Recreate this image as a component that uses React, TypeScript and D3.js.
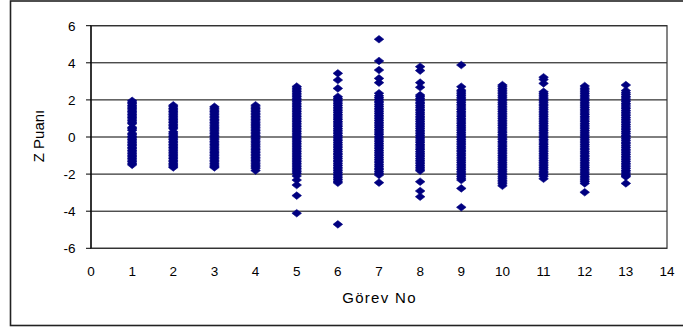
import React from 'react';
import * as d3 from 'd3';

// Görev numaraları ve her görevin Z puanları
const tasks = [1, 2, 3, 4, 5, 6, 7, 8, 9, 10, 11, 12, 13];

const t1 = [1.95, 1.87, 1.79, 1.7, 1.62, 1.55, 1.46, 1.38, 1.3, 1.21, 1.13, 1.05, 0.97, 0.88, 0.8, 0.72, 0.52, 0.44, 0.36, 0.2, 0.12, 0.03, -0.05, -0.14, -0.22, -0.31, -0.39, -0.47, -0.56, -0.64, -0.73, -0.81, -0.9, -0.98, -1.07, -1.15, -1.24, -1.32, -1.41, -1.5];
const t2 = [1.71, 1.63, 1.54, 1.46, 1.37, 1.29, 1.2, 1.12, 1.03, 0.95, 0.86, 0.78, 0.69, 0.61, 0.53, 0.45, 0.28, 0.2, 0.11, 0.03, -0.06, -0.14, -0.23, -0.31, -0.4, -0.48, -0.57, -0.65, -0.74, -0.82, -0.91, -0.99, -1.08, -1.16, -1.25, -1.33, -1.42, -1.5, -1.57, -1.64];
const t3 = [1.63, 1.55, 1.46, 1.38, 1.29, 1.21, 1.12, 1.04, 0.95, 0.87, 0.78, 0.7, 0.61, 0.53, 0.44, 0.36, 0.27, 0.19, 0.1, 0.02, -0.07, -0.15, -0.24, -0.32, -0.41, -0.49, -0.58, -0.66, -0.75, -0.83, -0.92, -1, -1.09, -1.17, -1.26, -1.34, -1.43, -1.51, -1.58, -1.64];
const t4 = [1.71, 1.62, 1.54, 1.45, 1.37, 1.28, 1.2, 1.11, 1.03, 0.94, 0.86, 0.77, 0.69, 0.6, 0.52, 0.43, 0.35, 0.26, 0.18, 0.09, 0.01, -0.08, -0.16, -0.25, -0.33, -0.42, -0.5, -0.59, -0.67, -0.76, -0.84, -0.93, -1.01, -1.1, -1.18, -1.27, -1.35, -1.44, -1.52, -1.61, -1.69, -1.81];
const t5 = [2.72, 2.63, 2.54, 2.45, 2.36, 2.27, 2.18, 2.09, 2, 1.91, 1.82, 1.73, 1.64, 1.55, 1.46, 1.37, 1.28, 1.19, 1.1, 1.01, 0.92, 0.83, 0.74, 0.65, 0.56, 0.47, 0.38, 0.29, 0.2, 0.11, 0.02, -0.07, -0.16, -0.25, -0.34, -0.43, -0.52, -0.61, -0.7, -0.79, -0.88, -0.97, -1.06, -1.15, -1.24, -1.33, -1.42, -1.51, -1.6, -1.69, -1.78, -1.87, -1.96, -2.1, -2.32, -2.59, -3.16, -4.11];
const t6 = [3.43, 3.07, 2.62, 2.17, 2.08, 1.98, 1.89, 1.79, 1.7, 1.6, 1.51, 1.41, 1.32, 1.22, 1.13, 1.03, 0.94, 0.84, 0.75, 0.65, 0.56, 0.46, 0.37, 0.27, 0.18, 0.08, -0.01, -0.11, -0.2, -0.3, -0.39, -0.49, -0.58, -0.68, -0.77, -0.87, -0.96, -1.06, -1.15, -1.25, -1.34, -1.44, -1.53, -1.63, -1.72, -1.82, -1.91, -2.01, -2.1, -2.2, -2.29, -2.38, -2.47, -4.71];
const t7 = [5.27, 4.1, 3.61, 3.16, 2.93, 2.36, 2.22, 2.12, 2.03, 1.93, 1.84, 1.74, 1.65, 1.55, 1.46, 1.36, 1.27, 1.17, 1.08, 0.98, 0.89, 0.79, 0.7, 0.6, 0.51, 0.41, 0.32, 0.22, 0.13, 0.03, -0.06, -0.16, -0.25, -0.35, -0.44, -0.54, -0.63, -0.73, -0.82, -0.92, -1.01, -1.11, -1.2, -1.3, -1.39, -1.49, -1.58, -1.68, -1.77, -1.87, -1.96, -2.05, -2.46];
const t8 = [3.79, 3.58, 2.93, 2.68, 2.26, 2.17, 2.07, 1.98, 1.88, 1.79, 1.69, 1.6, 1.5, 1.41, 1.31, 1.22, 1.12, 1.03, 0.93, 0.84, 0.74, 0.65, 0.55, 0.46, 0.36, 0.27, 0.17, 0.08, -0.02, -0.11, -0.21, -0.3, -0.4, -0.49, -0.59, -0.68, -0.78, -0.87, -0.97, -1.06, -1.16, -1.25, -1.35, -1.44, -1.54, -1.63, -1.73, -1.82, -2.41, -2.91, -3.22];
const t9 = [3.88, 2.71, 2.52, 2.43, 2.33, 2.24, 2.14, 2.05, 1.95, 1.86, 1.76, 1.67, 1.57, 1.48, 1.38, 1.29, 1.19, 1.1, 1, 0.91, 0.81, 0.72, 0.62, 0.53, 0.43, 0.34, 0.24, 0.15, 0.05, -0.04, -0.14, -0.23, -0.33, -0.42, -0.52, -0.61, -0.71, -0.8, -0.9, -0.99, -1.09, -1.18, -1.28, -1.37, -1.47, -1.56, -1.66, -1.75, -1.85, -1.94, -2.04, -2.13, -2.23, -2.32, -2.77, -3.79];
const t10 = [2.8, 2.71, 2.61, 2.52, 2.42, 2.33, 2.23, 2.14, 2.04, 1.95, 1.85, 1.76, 1.66, 1.57, 1.47, 1.38, 1.28, 1.19, 1.09, 1, 0.9, 0.81, 0.71, 0.62, 0.52, 0.43, 0.33, 0.24, 0.14, 0.05, -0.05, -0.14, -0.24, -0.33, -0.43, -0.52, -0.62, -0.71, -0.81, -0.9, -1, -1.09, -1.19, -1.28, -1.38, -1.47, -1.57, -1.66, -1.76, -1.85, -1.95, -2.04, -2.14, -2.23, -2.33, -2.42, -2.52, -2.63];
const t11 = [3.22, 3.1, 2.89, 2.44, 2.34, 2.25, 2.15, 2.06, 1.96, 1.87, 1.77, 1.68, 1.58, 1.49, 1.39, 1.3, 1.2, 1.11, 1.01, 0.92, 0.82, 0.73, 0.63, 0.54, 0.44, 0.35, 0.25, 0.16, 0.06, -0.03, -0.13, -0.22, -0.32, -0.41, -0.51, -0.6, -0.7, -0.79, -0.89, -0.98, -1.08, -1.17, -1.27, -1.36, -1.46, -1.55, -1.65, -1.74, -1.84, -1.93, -2.03, -2.12, -2.25];
const t12 = [2.75, 2.63, 2.54, 2.44, 2.35, 2.25, 2.16, 2.06, 1.97, 1.87, 1.78, 1.68, 1.59, 1.49, 1.4, 1.3, 1.21, 1.11, 1.02, 0.92, 0.83, 0.73, 0.64, 0.54, 0.45, 0.35, 0.26, 0.16, 0.07, -0.03, -0.12, -0.22, -0.31, -0.41, -0.5, -0.6, -0.69, -0.79, -0.88, -0.98, -1.07, -1.17, -1.26, -1.36, -1.45, -1.55, -1.64, -1.74, -1.83, -1.93, -2.02, -2.12, -2.21, -2.31, -2.4, -2.5, -2.98];
const t13 = [2.8, 2.5, 2.38, 2.29, 2.19, 2.1, 2, 1.91, 1.81, 1.72, 1.62, 1.53, 1.43, 1.34, 1.24, 1.15, 1.05, 0.96, 0.86, 0.77, 0.67, 0.58, 0.48, 0.39, 0.29, 0.2, 0.1, 0.01, -0.09, -0.18, -0.28, -0.37, -0.47, -0.56, -0.66, -0.75, -0.85, -0.94, -1.04, -1.13, -1.23, -1.32, -1.42, -1.51, -1.61, -1.7, -1.8, -1.89, -1.99, -2.08, -2.14, -2.5];

const scores = [t1, t2, t3, t4, t5, t6, t7, t8, t9, t10, t11, t12, t13];

const xTicks = [0, 1, 2, 3, 4, 5, 6, 7, 8, 9, 10, 11, 12, 13, 14];
const yTicks = [-6, -4, -2, 0, 2, 4, 6];

const W = 683;
const H = 328;

// diamond marker, a bit wider than tall like Excel's
const diamond = 'M0,-3.8L4.8,0L0,3.8L-4.8,0Z';

export default function App() {
  const x = d3.scaleLinear().domain([0, 14]).range([91, 667]);
  const y = d3.scaleLinear().domain([-6, 6]).range([248.3, 25.7]);

  const points = tasks.flatMap((t, i) => scores[i].map((v) => [t, v]));

  const font = 'Arial, "Liberation Sans", sans-serif';

  return (
    <svg
      width={W}
      height={H}
      style={{ position: 'absolute', left: 0, top: 0, background: '#fff' }}
      fontFamily={font}
    >
      <rect x={10.5} y={1} width={700} height={324.5} fill="#fff" stroke="#222" strokeWidth={1.6} />

      {/* gridlines */}
      {yTicks.map((t) => (
        <line key={'g' + t} x1={x(0)} x2={x(14)} y1={y(t)} y2={y(t)} stroke="#000" strokeWidth={1} />
      ))}

      {/* plot frame */}
      <rect x={x(0)} y={y(6)} width={x(14) - x(0)} height={y(-6) - y(6)} fill="none" stroke="#333" strokeWidth={1.2} />
      <line x1={x(0)} x2={x(0)} y1={y(6)} y2={y(-6)} stroke="#000" strokeWidth={1.2} />

      {/* y ticks and labels */}
      {yTicks.map((t) => (
        <g key={'y' + t}>
          <line x1={x(0) - 5} x2={x(0)} y1={y(t)} y2={y(t)} stroke="#000" strokeWidth={1} />
          <text x={75.5} y={y(t)} dy="0.36em" textAnchor="end" fontSize={13.5} fill="#000">
            {t}
          </text>
        </g>
      ))}

      {/* x labels */}
      {xTicks.map((t) => (
        <text key={'x' + t} x={x(t)} y={276} textAnchor="middle" fontSize={13.5} fill="#000">
          {t}
        </text>
      ))}

      {/* points */}
      {points.map(([t, v], i) => (
        <path
          key={i}
          d={diamond}
          transform={`translate(${x(t)},${y(v)})`}
          fill="#000080"
          stroke="#000080"
          strokeWidth={0.6}
        />
      ))}

      {/* axis titles */}
      <text x={379.5} y={303} textAnchor="middle" fontSize={15} letterSpacing={1.3} fill="#000">
        Görev No
      </text>
      <text transform={`translate(44.3,136) rotate(-90)`} textAnchor="middle" fontSize={15} fill="#000">
        Z Puanı
      </text>
    </svg>
  );
}
